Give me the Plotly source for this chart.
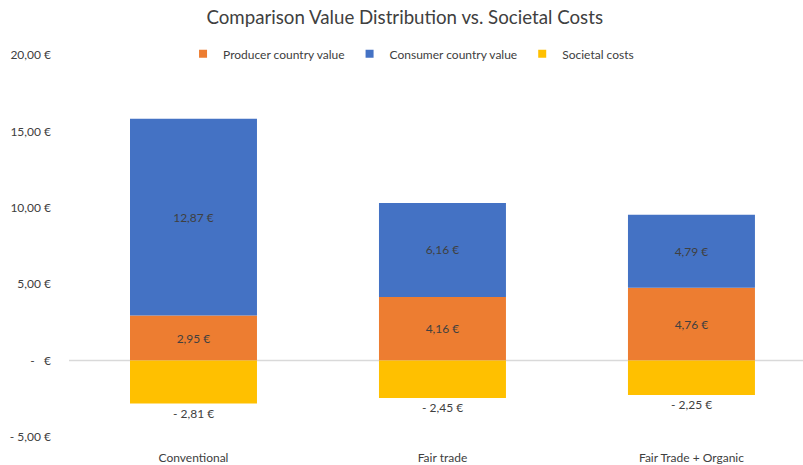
import plotly.graph_objects as go

categories = ["Conventional", "Fair trade", "Fair Trade + Organic"]
producer_value = [2.95, 4.16, 4.76]
consumer_value = [12.87, 6.16, 4.79]
societal_costs = [-2.81, -2.45, -2.25]

y_tick_vals = [-5, 0, 5, 10, 15, 20]
y_tick_text = ["- 5,00 €", "-   €", "5,00 €", "10,00 €", "15,00 €", "20,00 €"]

FONT = "Lato, Open Sans, sans-serif"
TEXT_COLOR = "#404040"
COLORS = {"Producer country value": "#ED7D31",
          "Consumer country value": "#4472C4",
          "Societal costs": "#FFC000"}


def euro(v):
    s = f"{abs(v):.2f}".replace(".", ",") + " €"
    return ("- " + s) if v < 0 else s


fig = go.Figure()

fig.add_trace(go.Bar(
    name="Producer country value", x=categories, y=producer_value,
    marker=dict(color=COLORS["Producer country value"], line=dict(width=0)),
    text=[euro(v) for v in producer_value], textposition="inside",
    insidetextanchor="middle", textfont=dict(color=TEXT_COLOR, size=12, family=FONT),
    showlegend=False,
))
fig.add_trace(go.Bar(
    name="Consumer country value", x=categories, y=consumer_value,
    marker=dict(color=COLORS["Consumer country value"], line=dict(width=0)),
    text=[euro(v) for v in consumer_value], textposition="inside",
    insidetextanchor="middle", textfont=dict(color=TEXT_COLOR, size=12, family=FONT),
    showlegend=False,
))
fig.add_trace(go.Bar(
    name="Societal costs", x=categories, y=societal_costs,
    marker=dict(color=COLORS["Societal costs"], line=dict(width=0)),
    showlegend=False,
))

# small square legend keys
for name, color in COLORS.items():
    fig.add_trace(go.Scatter(
        x=[None], y=[None], mode="markers", name=name,
        marker=dict(symbol="square", size=8, color=color),
    ))

# labels for the negative segments sit just below each bar
for cat, v in zip(categories, societal_costs):
    fig.add_annotation(x=cat, y=v, text=euro(v), showarrow=False,
                       yanchor="top", yshift=0,
                       font=dict(color=TEXT_COLOR, size=12, family=FONT))

fig.add_shape(type="line", xref="paper", yref="y", x0=0, x1=1, y0=0, y1=0,
              line=dict(color="#D9D9D9", width=1.5), layer="below")

fig.update_layout(
    barmode="relative",
    bargap=0.49,
    width=803, height=465,
    margin=dict(l=69, r=0, t=55, b=28),
    plot_bgcolor="white", paper_bgcolor="white",
    font=dict(family=FONT, color=TEXT_COLOR, size=12),
    title=dict(text="Comparison Value Distribution vs. Societal Costs",
               x=0.504, xref="container", xanchor="center", y=0.962, yanchor="middle",
               font=dict(size=18.7, color="#404040", family=FONT)),
    legend=dict(orientation="h", x=0.466, xanchor="center", y=1.003, yanchor="middle",
                font=dict(size=12, color=TEXT_COLOR, family=FONT),
                itemwidth=30, traceorder="normal", bgcolor="rgba(0,0,0,0)"),
    showlegend=True,
)
fig.update_xaxes(range=[-0.5, 2.448], showgrid=False, showline=False, zeroline=False,
                 ticks="", ticklabelstandoff=12,
                 tickfont=dict(size=12, color=TEXT_COLOR, family=FONT))
fig.update_yaxes(range=[-5, 20], tickvals=y_tick_vals, ticktext=y_tick_text,
                 showgrid=False, zeroline=False, showline=False, ticks="",
                 ticklabelstandoff=17,
                 tickfont=dict(size=12, color=TEXT_COLOR, family=FONT))

fig.write_html("out.html")
